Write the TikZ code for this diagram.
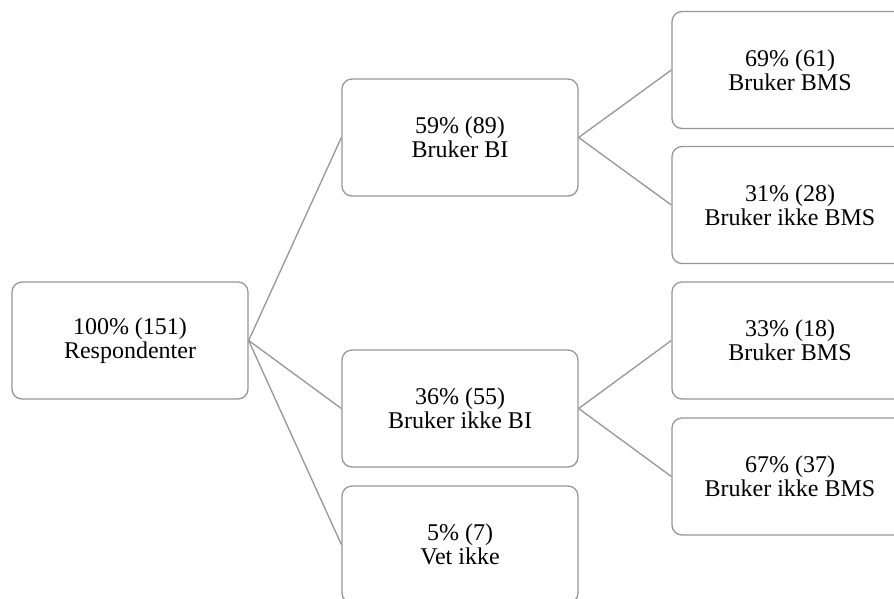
\documentclass[tikz,border=0pt]{standalone}
\usepackage{xcolor}
\usepackage{fontspec}
\setmainfont{Liberation Serif}
\usepackage{tikz}
\usetikzlibrary{calc}
\usetikzlibrary{positioning}
\definecolor{edgegray}{RGB}{150,150,150}
\tikzstyle{box} = [draw = edgegray, line width = 1.3pt, rounded corners = 10pt, rectangle, minimum width = 236pt, minimum height = 117pt, align = center, font = \fontsize{24pt}{24pt}\selectfont]
\tikzstyle{link} = [-, draw = edgegray, line width = 1.3pt]

\begin{document}
\begin{tikzpicture}[x = 1pt, y = -1pt]
\useasboundingbox (0, 0) rectangle (894, 598);
\node [box] (R) at (130, 340.5) {100\% (151)\\Respondenter};
\node [box] (B) at (460, 137.5) {59\% (89)\\Bruker BI};
\node [box] (N) at (460, 408.5) {36\% (55)\\Bruker ikke BI};
\node [box] (V) at (460, 544.5) {5\% (7)\\Vet ikke};
\node [box] (B1) at (790, 70) {69\% (61)\\Bruker BMS};
\node [box] (B2) at (790, 205) {31\% (28)\\Bruker ikke BMS};
\node [box] (N1) at (790, 340.5) {33\% (18)\\Bruker BMS};
\node [box] (N2) at (790, 476.5) {67\% (37)\\Bruker ikke BMS};
\draw [link] (R.east) to (B.west);
\draw [link] (R.east) to (N.west);
\draw [link] (R.east) to (V.west);
\draw [link] (B.east) to (B1.west);
\draw [link] (B.east) to (B2.west);
\draw [link] (N.east) to (N1.west);
\draw [link] (N.east) to (N2.west);
\end{tikzpicture}
\end{document}
